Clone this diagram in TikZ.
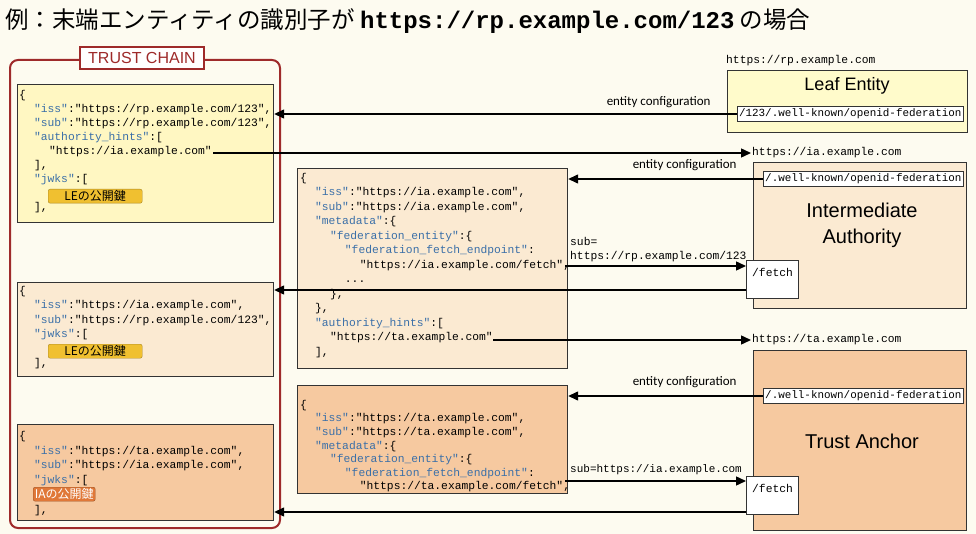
\documentclass[tikz,border=0pt]{standalone}
\usepackage{fontspec}
\setmainfont{Carlito}
\setmonofont{Liberation Mono}
\newfontfamily\jp{Noto Sans CJK JP}
\newfontfamily\arl{Liberation Sans}
\usetikzlibrary{arrows.meta}
\definecolor{bg}{HTML}{FDFBF0}
\definecolor{yel}{HTML}{FFF7C2}
\definecolor{yelE}{HTML}{FFFBCB}
\definecolor{pea}{HTML}{FBEAD2}
\definecolor{ora}{HTML}{F6C9A0}
\definecolor{redd}{HTML}{9E2A2A}
\definecolor{keyc}{HTML}{3A6FA8}
\definecolor{gold}{HTML}{F0C030}
\definecolor{oran}{HTML}{E07838}
\newcommand\kk[1]{\textcolor{keyc}{"#1"}}
\newcommand\ii{\hspace*{1.32em}}
\begin{document}
\begin{tikzpicture}[x=1pt,y=-1pt,
  box/.style={draw=black!80,line width=1.2pt,anchor=north west,inner sep=0pt},
  code/.style={anchor=north west,inner sep=0pt,align=left,font=\ttfamily\fontsize{11.3}{#1}\selectfont},
  code/.default=14,
  small/.style={draw=black!80,line width=1.1pt,fill=white,inner sep=2pt,anchor=east,font=\ttfamily\fontsize{10.9}{12}\selectfont},
  lab/.style={font=\fontsize{13}{14}\selectfont},
  url/.style={font=\ttfamily\fontsize{11.3}{12}\selectfont,anchor=west,inner sep=1pt},
  arr/.style={line width=1.4pt,-{Triangle[length=10pt,width=9pt]}},
  badge/.style={rounded corners=2pt,inner sep=0pt,minimum height=14pt,font=\jp\fontsize{12}{12}\selectfont,anchor=north west}]
\useasboundingbox (0,0) rectangle (976,534);
\fill[bg] (0,0) rectangle (976,534);
% title
\node[anchor=west,inner sep=0pt] (title) at (5,21) {\jp\fontsize{23.5}{24}\selectfont 例：末端エンティティの識別子が {\ttfamily\bfseries\fontsize{24}{24}\selectfont https://rp.example.com/123} の場合};
% trust chain frame
\draw[redd,line width=2pt,rounded corners=8pt] (10,60) rectangle (280,528);
\node[draw=redd,line width=2pt,fill=white,minimum width=124pt,minimum height=22pt,inner sep=0pt,text=redd,font=\arl\fontsize{16}{16}\selectfont] (tc) at (142,58) {TRUST CHAIN};
% chain boxes
\node[box,fill=yel,minimum width=256pt,minimum height=138pt] (c1) at (17,84) {};
\node[box,fill=pea,minimum width=256pt,minimum height=94pt] (c2) at (17,282) {};
\node[box,fill=ora,minimum width=256pt,minimum height=96pt] (c3) at (17,424) {};
\node[code] (t1) at (19,90) {\{\\
\ii\kk{iss}:"https://rp.example.com/123",\\
\ii\kk{sub}:"https://rp.example.com/123",\\
\ii\kk{authority\_hints}:[\\
\ii\ii"https://ia.example.com"\\
\ii],\\
\ii\kk{jwks}:[\\
\ \\
\ii],};
\node[badge,fill=gold,draw=gold!70!black,minimum width=94pt] (b1) at (48,189) {LEの公開鍵};
\node[code={14.5}] (t2) at (19,286) {\{\\
\ii\kk{iss}:"https://ia.example.com",\\
\ii\kk{sub}:"https://rp.example.com/123",\\
\ii\kk{jwks}:[\\
\ \\
\ii],};
\node[badge,fill=gold,draw=gold!70!black,minimum width=94pt] (b2) at (48,344) {LEの公開鍵};
\node[code={14.8}] (t3) at (19,431) {\{\\
\ii\kk{iss}:"https://ta.example.com",\\
\ii\kk{sub}:"https://ia.example.com",\\
\ii\kk{jwks}:[\\
\ \\
\ii],};
\node[badge,fill=oran,draw=oran!70!black,text=white,minimum width=62pt] (b3) at (33,487) {IAの公開鍵};
% entity configuration boxes
\node[box,fill=pea,minimum width=270pt,minimum height=200pt] (ec1) at (297,168) {};
\node[code={14.5}] (t4) at (300,173) {\{\\
\ii\kk{iss}:"https://ia.example.com",\\
\ii\kk{sub}:"https://ia.example.com",\\
\ii\kk{metadata}:\{\\
\ii\ii\kk{federation\_entity}:\{\\
\ii\ii\ii\kk{federation\_fetch\_endpoint}:\\
\ii\ii\ii\ii"https://ia.example.com/fetch",\\
\ii\ii\ii...\\
\ii\ii\},\\
\ii\},\\
\ii\kk{authority\_hints}:[\\
\ii\ii"https://ta.example.com"\\
\ii],};
\node[box,fill=ora,minimum width=270pt,minimum height=108pt] (ec2) at (297,385) {};
\node[code={13.6}] (t5) at (300,400) {\{\\
\ii\kk{iss}:"https://ta.example.com",\\
\ii\kk{sub}:"https://ta.example.com",\\
\ii\kk{metadata}:\{\\
\ii\ii\kk{federation\_entity}:\{\\
\ii\ii\ii\kk{federation\_fetch\_endpoint}:\\
\ii\ii\ii\ii"https://ta.example.com/fetch",};
% entities
\node[box,fill=yelE,minimum width=240pt,minimum height=62pt] (le) at (727,70) {};
\node[font=\arl\fontsize{18}{20}\selectfont] (lename) at (847,86) {Leaf Entity};
\node[url] (leurl) at (725,61) {https://rp.example.com};
\node[small] (lewk) at (964,114) {/123/.well-known/openid-federation};
\node[box,fill=pea,minimum width=213pt,minimum height=146pt] (ia) at (753,162) {};
\node[font=\arl\fontsize{20}{26}\selectfont,align=center] (ianame) at (862,225) {Intermediate\\Authority};
\node[url] (iaurl) at (751,153) {https://ia.example.com};
\node[small] (iawk) at (964,179) {/.well-known/openid-federation};
\node[small,anchor=north west,minimum width=52pt,minimum height=38pt] (iaf) at (746,260) {};
\node[font=\ttfamily\fontsize{11.3}{12}\selectfont,anchor=north west,inner sep=0pt] (iaft) at (752,268) {/fetch};
\node[box,fill=ora,minimum width=213pt,minimum height=180pt] (ta) at (753,350) {};
\node[font=\arl\fontsize{20}{25}\selectfont] (taname) at (862,441) {Trust Anchor};
\node[url] (taurl) at (751,340) {https://ta.example.com};
\node[small] (tawk) at (964,396) {/.well-known/openid-federation};
\node[small,anchor=north west,minimum width=52pt,minimum height=38pt] (taf) at (746,476) {};
\node[font=\ttfamily\fontsize{11.3}{12}\selectfont,anchor=north west,inner sep=0pt] (taft) at (752,484) {/fetch};
% free ends
\coordinate (s1) at (213,153);
\coordinate (s2) at (493,340);
\coordinate (s3) at (565,266);
\coordinate (s4) at (565,481);
% connectors
\draw[arr] (lewk.west) -- (c1.east |- lewk.west);
\node[lab,anchor=south east] (l1) at (714,111) {entity configuration};
\draw[arr] (s1) -- (iaurl.west);
\draw[arr] (iawk.west) -- (ec1.east |- iawk.west);
\node[lab,anchor=south east] (l2) at (740,174) {entity configuration};
\draw[arr] (s3) -- (iaf.west |- s3);
\node[font=\ttfamily\fontsize{11.3}{13.5}\selectfont,align=left,anchor=south west,inner sep=0pt] (l3) at (570,262) {sub=\\https://rp.example.com/123};
\draw[arr] (iaf.west |- 0,290) -- (c2.east |- 0,290);
\draw[arr] (s2) -- (taurl.west);
\draw[arr] (tawk.west) -- (ec2.east |- tawk.west);
\node[lab,anchor=south east] (l4) at (740,391) {entity configuration};
\draw[arr] (s4) -- (taf.west |- s4);
\node[font=\ttfamily\fontsize{11}{13}\selectfont,anchor=south west,inner sep=0pt] (l5) at (570,475) {sub=https://ia.example.com};
\draw[arr] (taf.west |- 0,512) -- (c3.east |- 0,512);
\end{tikzpicture}
\end{document}
